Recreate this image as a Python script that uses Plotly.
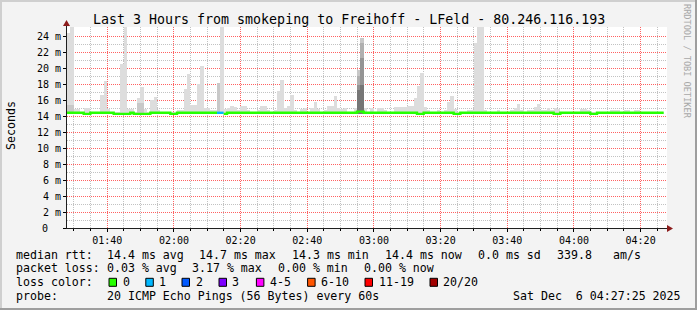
import plotly.graph_objects as go
import pandas as pd

# ---------------- data ----------------
START = "2025-12-06 01:27:55"
END = "2025-12-06 04:27:55"

# upper edge of the smoke (max of the 20 pings), ms, one value per minute
SMOKE_MAX = [
    24.4, 25.2, 14.9, 14.9, 14.5, 15.0, 15.0, 14.5, 14.5, 14.5,
    16.6, 18.4, 14.9, 14.5, 14.5, 14.5, 20.5, 25.2, 14.9, 14.9,
    14.5, 16.2, 17.6, 14.9, 14.5, 16.0, 16.4, 14.8, 14.5, 14.5,
    14.5, 14.5, 14.5, 14.8, 14.8, 17.4, 19.25, 15.4, 15.4, 18.0,
    20.25, 15.0, 15.0, 14.8, 14.8, 18.1, 25.2, 14.9, 15.0, 15.2,
    15.1, 14.8, 15.2, 15.2, 14.8, 14.5, 14.5, 14.8, 15.2, 15.2,
    14.8, 14.5, 14.8, 17.1, 18.5, 15.0, 15.2, 16.6, 14.8, 14.5,
    14.9, 15.0, 14.5, 15.0, 15.8, 14.9, 14.5, 14.8, 15.3, 15.3,
    16.5, 15.0, 14.9, 15.0, 14.5, 14.5, 15.0, 19.75, 23.8, 15.0,
    14.5, 15.0, 14.5, 15.0, 15.0, 14.8, 14.5, 14.5, 15.1, 15.1,
    15.1, 15.1, 15.2, 15.2, 16.3, 17.7, 19.4, 15.1, 14.8, 14.5,
    14.5, 14.8, 14.5, 14.8, 15.7, 16.5, 14.9, 14.5, 14.5, 14.5,
    14.8, 14.8, 23.1, 25.2, 25.2, 14.8, 14.5, 14.5, 14.5, 14.8,
    14.5, 14.5, 14.5, 14.8, 15.0, 15.5, 14.8, 14.5, 14.8, 14.8,
    15.1, 15.5, 14.8, 14.8, 15.0, 14.8, 15.0, 14.9, 14.5, 14.5,
    14.5, 14.5, 14.5, 14.5, 14.9, 14.9, 14.8, 14.5, 14.5, 14.5,
    14.5, 14.5, 14.5, 14.8, 14.8, 14.8, 14.5, 14.8, 14.8, 14.5,
    14.8, 14.8, 14.5, 14.5, 14.5, 14.5, 14.5, 14.5, 14.5,
]

# lower edge of the smoke (min ping), ms
SMOKE_MIN = [
    14.3, 14.3, 14.3, 14.3, 14.3, 14.2, 14.2, 14.3, 14.3, 14.3,
    14.3, 14.3, 14.3, 14.3, 14.2, 14.2, 14.2, 14.2, 14.2, 14.3,
    14.2, 14.2, 14.2, 14.2, 14.2, 14.3, 14.3, 14.3, 14.3, 14.3,
    14.3, 14.2, 14.2, 14.3, 14.3, 14.3, 14.3, 14.3, 14.3, 14.3,
    14.3, 14.3, 14.3, 14.3, 14.3, 14.3, 14.3, 14.2, 14.3, 14.3,
    14.3, 14.3, 14.3, 14.3, 14.3, 14.3, 14.3, 14.3, 14.3, 14.3,
    14.3, 14.3, 14.3, 14.3, 14.3, 14.3, 14.3, 14.3, 14.3, 14.3,
    14.3, 14.3, 14.3, 14.3, 14.3, 14.3, 14.3, 14.3, 14.3, 14.3,
    14.3, 14.3, 14.3, 14.3, 14.3, 14.3, 14.3, 14.3, 14.3, 14.3,
    14.3, 14.3, 14.3, 14.3, 14.3, 14.3, 14.3, 14.3, 14.3, 14.3,
    14.3, 14.3, 14.3, 14.3, 14.3, 14.2, 14.2, 14.3, 14.3, 14.3,
    14.3, 14.3, 14.3, 14.3, 14.3, 14.3, 14.2, 14.2, 14.3, 14.3,
    14.3, 14.3, 14.3, 14.3, 14.3, 14.3, 14.3, 14.3, 14.3, 14.3,
    14.3, 14.3, 14.3, 14.3, 14.3, 14.3, 14.3, 14.3, 14.3, 14.3,
    14.3, 14.3, 14.3, 14.3, 14.3, 14.3, 14.2, 14.2, 14.3, 14.3,
    14.3, 14.3, 14.3, 14.3, 14.3, 14.3, 14.3, 14.2, 14.2, 14.3,
    14.3, 14.3, 14.3, 14.3, 14.3, 14.3, 14.3, 14.3, 14.3, 14.3,
    14.3, 14.3, 14.3, 14.3, 14.3, 14.3, 14.3, 14.3, 14.3,
]

# median rtt, ms
MEDIAN = [
    14.4, 14.4, 14.4, 14.4, 14.4, 14.27, 14.27, 14.4, 14.4, 14.4,
    14.4, 14.4, 14.4, 14.4, 14.27, 14.27, 14.27, 14.27, 14.27, 14.4,
    14.27, 14.27, 14.27, 14.27, 14.27, 14.4, 14.4, 14.4, 14.4, 14.4,
    14.4, 14.27, 14.27, 14.4, 14.4, 14.4, 14.4, 14.4, 14.4, 14.4,
    14.4, 14.4, 14.4, 14.4, 14.4, 14.4, 14.4, 14.27, 14.4, 14.4,
    14.4, 14.4, 14.4, 14.4, 14.4, 14.4, 14.4, 14.4, 14.4, 14.4,
    14.4, 14.4, 14.4, 14.4, 14.4, 14.4, 14.4, 14.4, 14.4, 14.4,
    14.4, 14.4, 14.4, 14.4, 14.4, 14.4, 14.4, 14.4, 14.4, 14.4,
    14.4, 14.4, 14.4, 14.4, 14.4, 14.4, 14.4, 14.55, 14.55, 14.4,
    14.4, 14.4, 14.4, 14.4, 14.4, 14.4, 14.4, 14.4, 14.4, 14.4,
    14.4, 14.4, 14.4, 14.4, 14.4, 14.27, 14.27, 14.4, 14.4, 14.4,
    14.4, 14.4, 14.4, 14.4, 14.4, 14.4, 14.27, 14.27, 14.4, 14.4,
    14.4, 14.4, 14.4, 14.4, 14.4, 14.4, 14.4, 14.4, 14.4, 14.4,
    14.4, 14.4, 14.4, 14.4, 14.4, 14.4, 14.4, 14.4, 14.4, 14.4,
    14.4, 14.4, 14.4, 14.4, 14.4, 14.4, 14.27, 14.27, 14.4, 14.4,
    14.4, 14.4, 14.4, 14.4, 14.4, 14.4, 14.4, 14.27, 14.27, 14.4,
    14.4, 14.4, 14.4, 14.4, 14.4, 14.4, 14.4, 14.4, 14.4, 14.4,
    14.4, 14.4, 14.4, 14.4, 14.4, 14.4, 14.4, 14.4, 14.4,
]

# lost pings per minute (of 20)
LOSS_MINUTES = [45, 46]
LOSS_COUNTS = [1, 1]

# inner (denser) smoke bands: minute index and upper edge, ms
MID_IDX = [0, 1, 21, 22, 45, 87, 88]
MID_TOP = [15.4, 15.4, 15.6, 15.6, 18.1, 19.75, 23.8]
DARK_IDX = [87, 88]
DARK_TOP = [19.0, 23.1]
DARKER_IDX = [87, 88]
DARKER_TOP = [17.9, 21.2]
DARKEST_IDX = [87, 88]
DARKEST_TOP = [17.3, 17.9]

Y_TICKS = [0, 2, 4, 6, 8, 10, 12, 14, 16, 18, 20, 22, 24]
Y_TICK_TEXT = ["", "2 m", "4 m", "6 m", "8 m",
               "10 m", "12 m", "14 m", "16 m", "18 m", "20 m", "22 m", "24 m"]
ZERO_LABEL = "0"
Y_MINOR = [1, 3, 5, 7, 9, 11, 13, 15, 17, 19, 21, 23, 25]

LOSS_LEVELS = ["0", "1", "2", "3", "4-5", "6-10", "11-19", "20/20"]
LOSS_UPPER = [0, 1, 2, 3, 5, 10, 19, 20]
LOSS_COLORS = ["#26ff00", "#00b8ff", "#0059ff", "#7e00ff",
               "#ff00ff", "#ff5500", "#ff0000", "#a10000"]

TITLE = "Last 3 Hours from smokeping to Freihoff - LFeld - 80.246.116.193"

# ---------------- geometry helpers ----------------
W, H = 697, 310
PL, PR, PT, PB = 67, 667, 27, 228
FONT = "DejaVu Sans Mono"


def px(x):
    return (x - PL) / (PR - PL)


def py(y):
    return (PB - y) / (PB - PT)


N = len(MEDIAN)
times = pd.date_range(START, periods=N + 1, freq="min")
bar_x = list(times[:N])

fig = go.Figure()

# light smoke
fig.add_trace(go.Bar(
    x=bar_x, base=SMOKE_MIN, y=[hi - lo for hi, lo in zip(SMOKE_MAX, SMOKE_MIN)],
    width=60000, offset=0, marker=dict(color="#dddddd", line=dict(width=0)),
    hoverinfo="skip"))


def inner(idx, top, color):
    fig.add_trace(go.Bar(
        x=[times[i] for i in idx], base=[SMOKE_MIN[i] for i in idx],
        y=[t - SMOKE_MIN[i] for i, t in zip(idx, top)],
        width=60000, offset=0, marker=dict(color=color, line=dict(width=0)),
        hoverinfo="skip"))


inner(MID_IDX, MID_TOP, "#c8c8c8")
inner(DARK_IDX, DARK_TOP, "#b0b0b0")
inner(DARKER_IDX, DARKER_TOP, "#949494")
inner(DARKEST_IDX, DARKEST_TOP, "#767676")

# median line coloured by loss
loss = [0] * N
for m, c in zip(LOSS_MINUTES, LOSS_COUNTS):
    loss[m] = c


def bucket(n):
    for k, up in enumerate(LOSS_UPPER):
        if n <= up:
            return k
    return len(LOSS_UPPER) - 1


buckets = [bucket(v) for v in loss]
s = 0
while s < N:
    e = s
    while e + 1 < N and buckets[e + 1] == buckets[s]:
        e += 1
    xs = list(times[s:e + 2])
    ys = MEDIAN[s:e + 1] + [MEDIAN[e]]
    fig.add_trace(go.Scatter(
        x=xs, y=ys, mode="lines", line=dict(color=LOSS_COLORS[buckets[s]], width=2.4, shape="hv"),
        hoverinfo="skip"))
    s = e + 1

MAJOR = "rgba(255,30,30,0.7)"
MINOR = "rgba(0,0,0,0.24)"

fig.update_layout(
    width=W, height=H, autosize=False,
    margin=dict(l=PL, r=W - PR, t=PT, b=H - PB, pad=0),
    paper_bgcolor="#f3f3f3", plot_bgcolor="#ffffff",
    showlegend=False, barmode="overlay", bargap=0,
    font=dict(family=FONT, color="#000000"),
    xaxis=dict(
        type="date", range=[START, END], tickmode="linear",
        tick0="2025-12-06 00:00", dtick=20 * 60000, tickformat="%H:%M",
        showgrid=True, gridcolor=MAJOR, griddash="1px,1px", gridwidth=1,
        ticks="outside", ticklen=3, tickcolor="#000000", tickwidth=1,
        tickfont=dict(family=FONT, size=10, color="#000000"),
        showline=False, zeroline=False, fixedrange=True,
        minor=dict(tick0="2025-12-06 00:00", dtick=5 * 60000, showgrid=True,
                   gridcolor=MINOR, griddash="1px,1px", gridwidth=1,
                   ticks="outside", ticklen=2, tickcolor="#000000"),
    ),
    yaxis=dict(
        range=[0, 25.125], tickmode="array", tickvals=Y_TICKS, ticktext=Y_TICK_TEXT,
        showgrid=True, gridcolor=MAJOR, griddash="1px,1px", gridwidth=1,
        ticks="outside", ticklen=3, tickcolor="#000000",
        tickfont=dict(family=FONT, size=10, color="#000000"),
        showline=False, zeroline=False, fixedrange=True,
        minor=dict(tickvals=Y_MINOR, showgrid=True, gridcolor=MINOR,
                   griddash="1px,1px", gridwidth=1, ticks=""),
    ),
)

shapes = []
# 3D frame
shapes.append(dict(type="rect", xref="paper", yref="paper", x0=px(0), x1=px(W), y0=py(0), y1=py(2),
                   fillcolor="#cfcfcf", line=dict(width=0), layer="above"))
shapes.append(dict(type="rect", xref="paper", yref="paper", x0=px(0), x1=px(2), y0=py(0), y1=py(H),
                   fillcolor="#cfcfcf", line=dict(width=0), layer="above"))
shapes.append(dict(type="rect", xref="paper", yref="paper", x0=px(0), x1=px(W), y0=py(H - 2), y1=py(H),
                   fillcolor="#9e9e9e", line=dict(width=0), layer="above"))
shapes.append(dict(type="rect", xref="paper", yref="paper", x0=px(W - 2), x1=px(W), y0=py(0), y1=py(H),
                   fillcolor="#9e9e9e", line=dict(width=0), layer="above"))
# axes
shapes.append(dict(type="line", xref="paper", yref="paper", x0=px(66.5), x1=px(668), y0=py(228.5), y1=py(228.5),
                   line=dict(color="#1f1f1f", width=1), layer="above"))
shapes.append(dict(type="line", xref="paper", yref="paper", x0=px(66.5), x1=px(66.5), y0=py(229), y1=py(22),
                   line=dict(color="#1f1f1f", width=1), layer="above"))
# arrows
shapes.append(dict(type="path", xref="paper", yref="paper",
                   path="M {} {} L {} {} L {} {} Z".format(px(673), py(228.5), px(667), py(225), px(667), py(232)),
                   fillcolor="#8c1c1c", line=dict(width=0), layer="above"))
shapes.append(dict(type="path", xref="paper", yref="paper",
                   path="M {} {} L {} {} L {} {} Z".format(px(66.5), py(20), px(63), py(26), px(70), py(26)),
                   fillcolor="#8c1c1c", line=dict(width=0), layer="above"))

ann = []


def text(x, y, t, size=11.6, anchor="left", color="#000000", angle=0):
    ann.append(dict(xref="paper", yref="paper", x=px(x), y=py(y), text=t, showarrow=False,
                    xanchor=anchor, yanchor="middle", textangle=angle, borderpad=0, borderwidth=0,
                    font=dict(family=FONT, size=size, color=color)))


# the zero label of the value axis sits two character cells left of the others
ann.append(dict(xref="paper", yref="y", x=px(47.8), y=Y_TICKS[0], text=ZERO_LABEL, showarrow=False,
                xanchor="right", yanchor="middle", borderpad=0, borderwidth=0,
                font=dict(family=FONT, size=10, color="#000000")))

text(348.5, 19.3, TITLE, size=13.3, anchor="center")
text(11, 126, "Seconds", size=11.6, anchor="center", angle=-90)
text(687, 61, "RRDTOOL / TOBI OETIKER", size=8.6, anchor="center", color="#a8a8a8", angle=90)

ROW_Y = [254.7, 268.3, 282.3, 296.0]
row1 = [("median rtt:", 16.4), ("14.4 ms avg", 107.6), ("14.7 ms max", 200.0), ("14.3 ms min", 292.4),
        ("14.4 ms now", 385.8), ("0.0 ms sd", 479.0), ("339.8", 557.8), ("am/s", 614.0)]
row2 = [("packet loss:", 16.4), ("0.03 % avg", 107.6), ("3.17 % max", 192.4), ("0.00 % min", 279.0),
        ("0.00 % now", 364.4)]
for t, x in row1:
    text(x - 0.7, ROW_Y[0], t)
for t, x in row2:
    text(x - 0.7, ROW_Y[1], t)
text(16.4 - 0.7, ROW_Y[2], "loss color:")
SQ_X = [109.0, 145.8, 182.0, 219.0, 256.4, 307.6, 365.0, 430.0]
LB_X = [123.6, 160.0, 197.0, 233.0, 271.0, 322.0, 380.0, 444.0]
for lab, col, sx, lx in zip(LOSS_LEVELS, LOSS_COLORS, SQ_X, LB_X):
    shapes.append(dict(type="rect", xref="paper", yref="paper", x0=px(sx), x1=px(sx + 7.5),
                       y0=py(ROW_Y[2] - 4), y1=py(ROW_Y[2] + 4), fillcolor=col,
                       line=dict(color="#000000", width=1), layer="above"))
    text(lx - 0.7, ROW_Y[2], lab)
text(16.4 - 0.7, ROW_Y[3], "probe:")
text(107.6 - 0.7, ROW_Y[3], "20 ICMP Echo Pings (56 Bytes) every 60s")
text(680.5, ROW_Y[3], "Sat Dec\u00a0\u00a06 04:27:25 2025", anchor="right")

fig.update_layout(shapes=shapes, annotations=ann)
fig.write_html("out.html")
